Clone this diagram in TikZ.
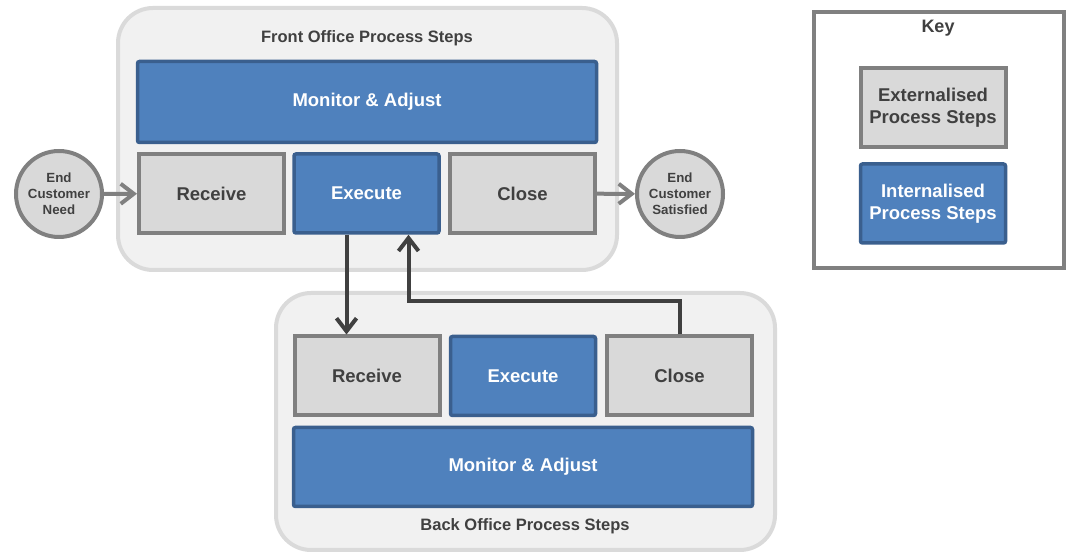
\documentclass[tikz,border=0pt]{standalone}
\usepackage{fontspec}
\setmainfont{Liberation Sans}
\usetikzlibrary{arrows.meta,positioning,calc}
\definecolor{bluefill}{HTML}{4F81BD}
\definecolor{blueline}{HTML}{3A5F8E}
\definecolor{greyfill}{HTML}{D9D9D9}
\definecolor{greyline}{HTML}{808080}
\definecolor{panelfill}{HTML}{F1F1F1}
\definecolor{panelline}{HTML}{DADADA}
\definecolor{darktxt}{HTML}{404040}
\tikzset{
  extbox/.style={draw=greyline,fill=greyfill,line width=4pt,text=darktxt,
    minimum width=145pt,minimum height=79pt,inner sep=0pt,align=center,
    font=\bfseries\fontsize{18.5}{22}\selectfont},
  intbox/.style={extbox,draw=blueline,fill=bluefill,text=white,line width=3.5pt,
    rounded corners=2pt},
  endpt/.style={circle,draw=greyline,fill=greyfill,line width=4pt,text=darktxt,
    minimum size=86pt,inner sep=0pt,align=center,
    font=\bfseries\fontsize{13.3}{16}\selectfont},
  panel/.style={draw=panelline,fill=panelfill,line width=4pt,rounded corners=35pt},
  ttl/.style={text=darktxt,font=\bfseries\fontsize{16.5}{20}\selectfont},
  garr/.style={draw=greyline,line width=4pt,-{Straight Barb[length=13pt,width=20pt]}},
  darr/.style={draw=darktxt,line width=4pt,-{Straight Barb[length=13pt,width=20pt]}},
}
\begin{document}
\begin{tikzpicture}[x=1pt,y=1pt]
  \useasboundingbox (0,0) rectangle (1070,553);
  % front office
  \draw[panel] (118,283) rectangle (617,545);
  \node[ttl] (fttl) at (367,515) {Front Office Process Steps};
  \node[intbox,minimum width=459pt,minimum height=81pt] (fmon) at (367,451) {Monitor \& Adjust};
  \node[extbox] (frec) at (211.5,359.5) {Receive};
  \node[intbox] (fexec) at (366.5,359.5) {Execute};
  \node[extbox] (fclose) at (522.5,359.5) {Close};
  \node[endpt] (cneed) at (59,359) {End\\Customer\\Need};
  \node[endpt] (csat) at (680,359) {End\\Customer\\Satisfied};
  \draw[garr] (cneed) -- (frec);
  \draw[garr] (fclose) -- (csat);
  % back office
  \draw[panel] (276,3) rectangle (775,260);
  \node[ttl] (bttl) at (525,27) {Back Office Process Steps};
  \node[extbox] (brec) at (367,177) {Receive};
  \node[intbox] (bexec) at (523,177) {Execute};
  \node[extbox] (bclose) at (679.5,177) {Close};
  \node[intbox,minimum width=459pt,minimum height=79pt] (bmon) at (523,86) {Monitor \& Adjust};
  % hand over and back
  \draw[darr] ([xshift=-20pt]fexec.south) -- ([xshift=-20pt]fexec.south |- brec.north);
  \draw[darr] (bclose.north) -- ++(0,33) -| ([xshift=42pt]fexec.south);
  % key
  \node[draw=greyline,fill=white,line width=4pt,minimum width=250pt,minimum height=256pt] (key) at (939,413) {};
  \node[ttl,font=\bfseries\fontsize{18}{22}\selectfont] (keyttl) at (938,525) {Key};
  \node[extbox] (kext) at (933,445.5) {Externalised\\Process Steps};
  \node[intbox] (kint) at (933,349.5) {Internalised\\Process Steps};
\end{tikzpicture}
\end{document}
